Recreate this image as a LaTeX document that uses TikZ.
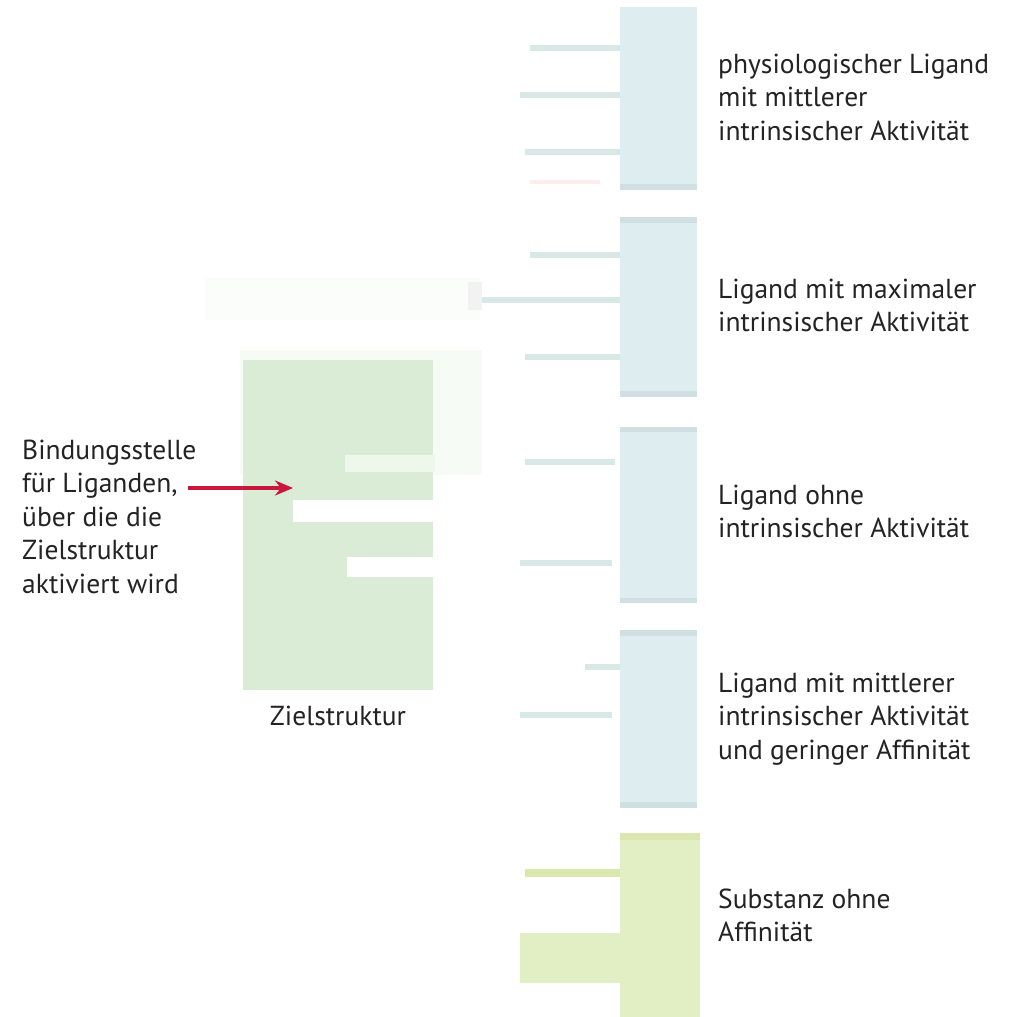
\documentclass[tikz,border=0pt]{standalone}
\usepackage{fontspec}
\setmainfont{PT Sans}
\usetikzlibrary{arrows.meta}
\definecolor{txt}{RGB}{35,35,35}
\definecolor{target}{RGB}{218,236,214}
\definecolor{targetlt}{RGB}{238,247,236}
\definecolor{lig}{RGB}{222,237,239}
\definecolor{ligedge}{RGB}{208,224,226}
\definecolor{ligbar}{RGB}{216,233,229}
\definecolor{inert}{RGB}{226,238,196}
\definecolor{inertbar}{RGB}{218,232,176}
\definecolor{arrowred}{RGB}{200,22,60}
\newcommand{\lbl}[1]{\begin{tabular}[t]{@{}l@{}}#1\end{tabular}}
\tikzset{
  label text/.style={anchor=base west, inner sep=0pt, text=txt,
    font=\fontsize{27.5}{33.5}\selectfont},
  column/.style={fill=lig, draw=none},
  hole/.style={fill=white, draw=none, inner sep=0pt},
}
\begin{document}
\begin{tikzpicture}[x=1pt,y=-1pt]
\useasboundingbox (0,0) rectangle (1017,1017);
\fill[white] (0,0) rectangle (1017,1017);

% ---- target structure ----
\fill[white!55!targetlt] (240,350) rectangle (482,475);
\fill[white!75!targetlt] (205,278) rectangle (480,320);
\fill[target] (243,360) rectangle (433,690);
\fill[targetlt] (345,455) rectangle (435,472);
\node[hole, minimum width=142pt, minimum height=22pt, anchor=north west] (site) at (293,500) {};
\node[hole, minimum width=88pt, minimum height=20pt, anchor=north west] (pocket) at (347,557) {};

% ---- ligand 1: physiological, partial activity ----
\fill[column] (620,7) rectangle (697,190);
\fill[ligedge] (620,184) rectangle (697,190);
\fill[ligbar] (530,45) rectangle (620,51);
\fill[ligbar] (520,92) rectangle (620,98);
\fill[ligbar] (525,149) rectangle (620,155);
\fill[red!7] (530,180) rectangle (600,184);

% ---- ligand 2: full activity ----
\fill[column] (620,217) rectangle (697,397);
\fill[ligedge] (620,217) rectangle (697,223);
\fill[ligedge] (620,391) rectangle (697,397);
\fill[ligbar] (530,252) rectangle (620,258);
\fill[ligbar] (482,297) rectangle (620,303);
\fill[black!5] (468,282) rectangle (482,310);
\fill[ligbar] (525,354) rectangle (620,360);

% ---- ligand 3: no activity ----
\fill[column] (620,427) rectangle (697,603);
\fill[ligedge] (620,427) rectangle (697,432);
\fill[ligedge] (620,598) rectangle (697,603);
\fill[ligbar] (525,459) rectangle (615,465);
\fill[ligbar] (520,560) rectangle (612,566);

% ---- ligand 4: partial activity, low affinity ----
\fill[column] (620,630) rectangle (697,808);
\fill[ligedge] (620,630) rectangle (697,636);
\fill[ligedge] (620,802) rectangle (697,808);
\fill[ligbar] (585,664) rectangle (620,670);
\fill[ligbar] (520,712) rectangle (612,718);

% ---- substance without affinity ----
\fill[inert] (620,833) rectangle (700,1017);
\fill[inertbar] (620,833) rectangle (700,840);
\fill[inertbar] (525,869) rectangle (620,877);
\fill[inert] (520,933) rectangle (620,983);

% ---- labels ----
\node[label text] (t1) at (718,73) {\lbl{physiologischer Ligand\\mit mittlerer\\intrinsischer Aktivität}};
\node[label text] (t2) at (718,298) {\lbl{Ligand mit maximaler\\intrinsischer Aktivität}};
\node[label text] (t3) at (718,504) {\lbl{Ligand ohne\\intrinsischer Aktivität}};
\node[label text] (t4) at (718,692) {\lbl{Ligand mit mittlerer\\intrinsischer Aktivität\\und geringer Affinität}};
\node[label text] (t5) at (718,908) {\lbl{Substanz ohne\\Affinität}};
\node[label text] (tsite) at (22,459) {\lbl{Bindungsstelle\\für Liganden,\\über die die\\Zielstruktur\\aktiviert wird}};
\node[label text, anchor=base] (ttarget) at (338,725) {Zielstruktur};

% ---- pointer to the binding site ----
\coordinate (from) at (188,488);
\draw[arrowred, line width=3.5pt, -{Stealth[length=18pt,width=15pt]}] (from) -- (site.west |- from);
\end{tikzpicture}
\end{document}
